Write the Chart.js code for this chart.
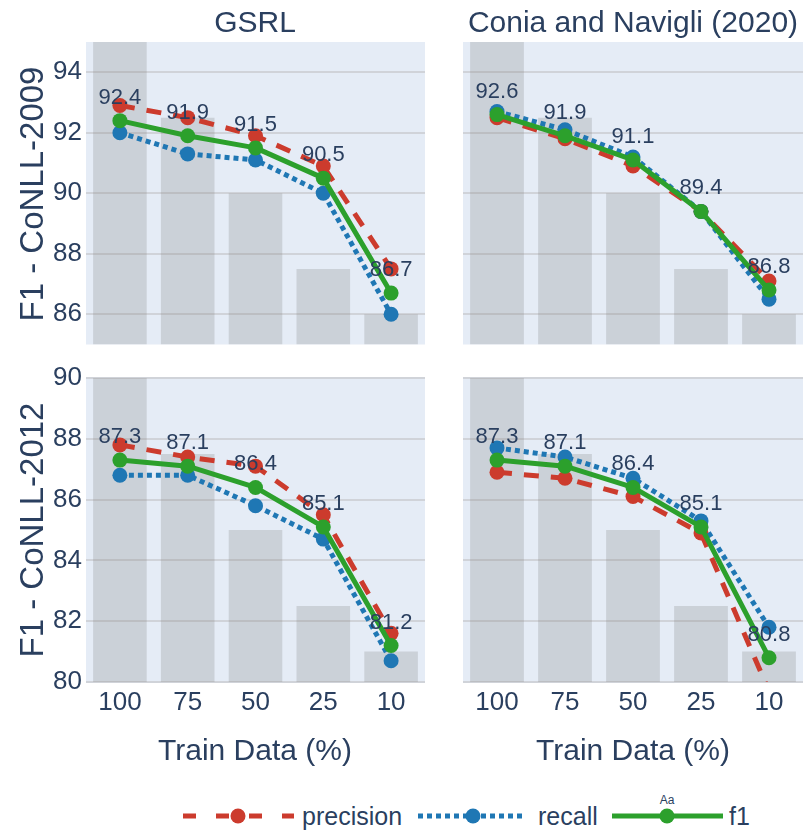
<!DOCTYPE html>
<html>
<head>
<meta charset="utf-8">
<script src="https://cdn.jsdelivr.net/npm/chart.js@4.4.1/dist/chart.umd.min.js"></script>
<style>
body { margin: 0; background: #fff; font-family: "Liberation Sans", Arial, sans-serif; color: #2a3f5f; }
#wrap { position: relative; width: 806px; height: 832px; overflow: hidden; }
canvas { position: absolute; }
.t { position: absolute; white-space: nowrap; transform: translate(-50%, -50%); line-height: 1; }
.yt { position: absolute; white-space: nowrap; transform: translate(-50%, -50%) rotate(-90deg); line-height: 1; }
</style>
</head>
<body>
<div id="wrap">
  <canvas id="c1" width="440" height="352" style="left:0;top:0"></canvas>
  <canvas id="c2" width="380" height="352" style="left:440px;top:0"></canvas>
  <canvas id="c3" width="440" height="423" style="left:0;top:352px"></canvas>
  <canvas id="c4" width="380" height="423" style="left:440px;top:352px"></canvas>

  <div class="t" style="left:255px;top:22px;font-size:30px">GSRL</div>
  <div class="t" style="left:633px;top:22px;font-size:30px">Conia and Navigli (2020)</div>
  <div class="t" style="left:255px;top:750px;font-size:30px">Train Data (%)</div>
  <div class="t" style="left:633px;top:750px;font-size:30px">Train Data (%)</div>
  <div class="yt" style="left:31px;top:194px;font-size:33px">F1 - CoNLL-2009</div>
  <div class="yt" style="left:31px;top:530px;font-size:33px">F1 - CoNLL-2012</div>

  <svg style="position:absolute;left:0;top:790px" width="806" height="42">
    <line x1="183" y1="26" x2="294" y2="26" stroke="#cc3b2d" stroke-width="5" stroke-dasharray="13,20"/>
    <circle cx="238" cy="26" r="7.5" fill="#cc3b2d"/>
    <text x="302" y="35" font-size="25" fill="#2a3f5f" font-family="Liberation Sans, Arial, sans-serif">precision</text>
    <line x1="418" y1="26" x2="526" y2="26" stroke="#1f77b4" stroke-width="5" stroke-dasharray="5,4"/>
    <circle cx="473" cy="26" r="7.5" fill="#1f77b4"/>
    <text x="538" y="35" font-size="25" fill="#2a3f5f" font-family="Liberation Sans, Arial, sans-serif">recall</text>
    <line x1="612" y1="26" x2="723" y2="26" stroke="#2ca02c" stroke-width="5"/>
    <circle cx="667" cy="26" r="7.5" fill="#2ca02c"/>
    <text x="667" y="14" font-size="12" text-anchor="middle" fill="#2a3f5f" font-family="Liberation Sans, Arial, sans-serif">Aa</text>
    <text x="729" y="35" font-size="25" fill="#2a3f5f" font-family="Liberation Sans, Arial, sans-serif">f1</text>
  </svg>
</div>
<script>
const trainData = ['100', '75', '50', '25', '10'];
const barValues = [100, 75, 50, 25, 10];
const yTicks09 = [86, 88, 90, 92, 94];
const yTicks12 = [80, 82, 84, 86, 88, 90];

const gsrl09Precision = [92.9, 92.5, 91.9, 90.9, 87.5];
const gsrl09Recall = [92.0, 91.3, 91.1, 90.0, 86.0];
const gsrl09F1 = [92.4, 91.9, 91.5, 90.5, 86.7];

const conia09Precision = [92.5, 91.8, 90.9, 89.4, 87.1];
const conia09Recall = [92.7, 92.1, 91.2, 89.4, 86.5];
const conia09F1 = [92.6, 91.9, 91.1, 89.4, 86.8];

const gsrl12Precision = [87.8, 87.4, 87.1, 85.5, 81.6];
const gsrl12Recall = [86.8, 86.8, 85.8, 84.7, 80.7];
const gsrl12F1 = [87.3, 87.1, 86.4, 85.1, 81.2];

const conia12Precision = [86.9, 86.7, 86.1, 84.9, 79.7];
const conia12Recall = [87.7, 87.4, 86.7, 85.3, 81.8];
const conia12F1 = [87.3, 87.1, 86.4, 85.1, 80.8];

const red = '#cc3b2d';
const blue = '#1f77b4';
const green = '#2ca02c';
const textColor = '#2a3f5f';
const fontFamily = '"Liberation Sans", Arial, sans-serif';

// plot background
const bgPlugin = {
  id: 'plotBg',
  beforeDraw(chart) {
    const a = chart.chartArea;
    const ctx = chart.ctx;
    ctx.save();
    ctx.fillStyle = '#e5ecf6';
    ctx.fillRect(a.left, a.top, a.right - a.left, a.bottom - a.top);
    ctx.restore();
  }
};

// value labels above the f1 points
const labelPlugin = {
  id: 'f1Labels',
  afterDatasetsDraw(chart) {
    const meta = chart.getDatasetMeta(0);
    const values = chart.data.datasets[0].data;
    const ctx = chart.ctx;
    ctx.save();
    ctx.font = '22px ' + fontFamily;
    ctx.fillStyle = textColor;
    ctx.textAlign = 'center';
    ctx.textBaseline = 'alphabetic';
    meta.data.forEach(function(pt, i) {
      ctx.fillText(values[i].toFixed(1), pt.x, pt.y - 17);
    });
    ctx.restore();
  }
};

function lineSet(label, data, color, dash, order) {
  return {
    type: 'line',
    label: label,
    data: data,
    yAxisID: 'y',
    borderColor: color,
    backgroundColor: color,
    borderWidth: 5,
    borderDash: dash,
    borderJoinStyle: 'round',
    tension: 0,
    pointRadius: 7.5,
    pointHoverRadius: 7.5,
    pointBorderWidth: 0,
    order: order,
    clip: 0
  };
}

function makeChart(id, o) {
  return new Chart(document.getElementById(id), {
    type: 'bar',
    data: {
      labels: trainData,
      datasets: [
        lineSet('f1', o.f1, green, [], 1),
        lineSet('recall', o.recall, blue, [5, 4], 2),
        lineSet('precision', o.precision, red, [15, 12], 3),
        {
          type: 'bar',
          label: 'train',
          data: barValues,
          yAxisID: 'y2',
          backgroundColor: 'rgba(128,128,128,0.25)',
          barPercentage: 0.79,
          categoryPercentage: 1,
          order: 4
        }
      ]
    },
    options: {
      responsive: false,
      animation: false,
      events: [],
      layout: { padding: o.padding },
      plugins: { legend: { display: false }, tooltip: { enabled: false } },
      scales: {
        x: {
          display: o.showX,
          grid: { display: false, drawTicks: false },
          border: { display: false },
          ticks: { color: textColor, font: { size: 26, family: fontFamily }, padding: 5 },
          afterFit: function(s) {
            s.height = o.showX ? 93 : 0;
            s.paddingLeft = 0;
            s.paddingRight = 0;
          }
        },
        y: {
          min: o.min,
          max: o.max,
          afterBuildTicks: function(s) { s.ticks = o.ticks.map(function(v) { return { value: v }; }); },
          grid: { color: '#d0d3d9', lineWidth: 2, drawTicks: false },
          border: { display: false },
          ticks: { display: o.showY, color: textColor, font: { size: 26, family: fontFamily }, padding: 4 },
          afterFit: function(s) {
            s.width = o.yWidth;
            s.paddingTop = 0;
            s.paddingBottom = 0;
          }
        },
        y2: { display: false, min: 0, max: 100 }
      }
    },
    plugins: [bgPlugin, labelPlugin]
  });
}

makeChart('c1', {
  precision: gsrl09Precision, recall: gsrl09Recall, f1: gsrl09F1,
  min: 85, max: 95, ticks: yTicks09, showX: false, showY: true, yWidth: 86,
  padding: { top: 42, right: 15, bottom: 6, left: 0 }
});
makeChart('c2', {
  precision: conia09Precision, recall: conia09Recall, f1: conia09F1,
  min: 85, max: 95, ticks: yTicks09, showX: false, showY: false, yWidth: 23,
  padding: { top: 42, right: 17, bottom: 6, left: 0 }
});
makeChart('c3', {
  precision: gsrl12Precision, recall: gsrl12Recall, f1: gsrl12F1,
  min: 80, max: 90, ticks: yTicks12, showX: true, showY: true, yWidth: 86,
  padding: { top: 26, right: 15, bottom: 0, left: 0 }
});
makeChart('c4', {
  precision: conia12Precision, recall: conia12Recall, f1: conia12F1,
  min: 80, max: 90, ticks: yTicks12, showX: true, showY: false, yWidth: 23,
  padding: { top: 26, right: 17, bottom: 0, left: 0 }
});
</script>
</body>
</html>
